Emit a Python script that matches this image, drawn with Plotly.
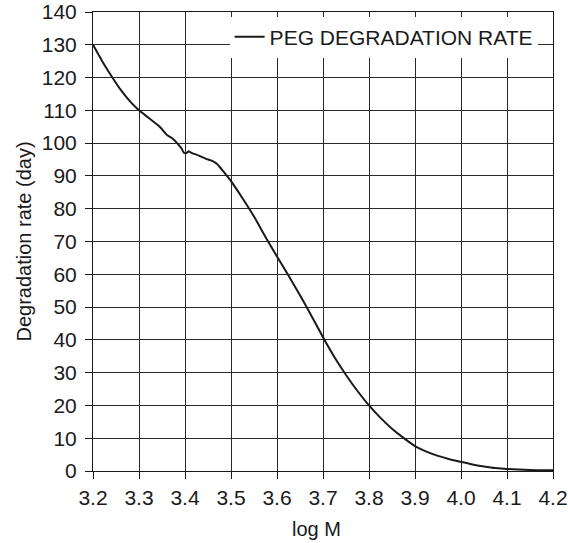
import plotly.graph_objects as go

# PEG degradation rate versus log molecular weight
log_m = [3.200, 3.220, 3.240, 3.260, 3.280, 3.300, 3.320, 3.345, 3.361, 3.372,
         3.381, 3.386, 3.392, 3.398, 3.403, 3.408, 3.412, 3.418, 3.425, 3.435,
         3.446, 3.455, 3.464, 3.470, 3.475, 3.482, 3.490, 3.500, 3.525, 3.550,
         3.575, 3.600, 3.625, 3.650, 3.675, 3.700, 3.725, 3.750, 3.775, 3.800,
         3.825, 3.850, 3.875, 3.900, 3.925, 3.950, 3.975, 4.000, 4.025, 4.050,
         4.075, 4.100, 4.150, 4.200]
rate = [130.0, 125.0, 120.5, 116.3, 112.8, 110.0, 107.8, 105.0, 102.5, 101.5,
        100.3, 99.5, 98.5, 97.0, 97.0, 97.5, 97.2, 96.8, 96.5, 95.9,
        95.2, 94.8, 94.2, 93.6, 92.8, 91.6, 90.2, 88.4, 83.2, 77.6,
        71.4, 65.4, 59.6, 53.6, 47.3, 40.8, 34.7, 29.3, 24.4, 20.0,
        16.2, 12.9, 10.1, 7.6, 5.9, 4.6, 3.6, 2.8, 2.0, 1.4,
        0.9, 0.6, 0.3, 0.2]

x_ticks = [3.2, 3.3, 3.4, 3.5, 3.6, 3.7, 3.8, 3.9, 4.0, 4.1, 4.2]
x_tick_text = ["3.2", "3.3", "3.4", "3.5", "3.6", "3.7", "3.8", "3.9", "4.0", "4.1", "4.2"]
y_ticks = list(range(0, 141, 10))

FONT = "Liberation Sans, Arial, Helvetica, sans-serif"
INK = "#1a1a1a"

fig = go.Figure()
fig.add_trace(go.Scatter(
    x=log_m, y=rate, mode="lines",
    name="PEG DEGRADATION RATE",
    line=dict(color=INK, width=2, shape="spline", smoothing=0.5),
))

axis_common = dict(
    showline=True, linecolor=INK, linewidth=1, mirror=True,
    showgrid=True, gridcolor="#2a2a2a", gridwidth=1,
    ticks="outside", ticklen=7, tickcolor=INK, tickwidth=1,
    tickfont=dict(family=FONT, size=21, color=INK),
    zeroline=False,
)

fig.update_xaxes(
    range=[3.2, 4.2], tickvals=x_ticks, ticktext=x_tick_text,
    ticklabelstandoff=1,
    **axis_common,
)
fig.update_yaxes(
    range=[0, 140], tickvals=y_ticks,
    title=dict(text="Degradation rate (day)", font=dict(family=FONT, size=20, color=INK), standoff=4),
    ticklabelstandoff=4,
    **axis_common,
)

# x-axis title
fig.add_annotation(
    text="log M", xref="paper", yref="paper", x=0.485, y=-0.126,
    xanchor="center", yanchor="middle", showarrow=False,
    font=dict(family=FONT, size=20, color=INK),
)

fig.update_layout(
    width=568, height=543,
    margin=dict(l=93, r=15, t=12, b=72, autoexpand=False),
    paper_bgcolor="white", plot_bgcolor="white",
    showlegend=True,
    legend=dict(
        x=0.297, y=0.99, xanchor="left", yanchor="top",
        bgcolor="white", borderwidth=0,
        font=dict(family=FONT, size=21, color=INK),
    ),
)

fig.write_html("out.html")
